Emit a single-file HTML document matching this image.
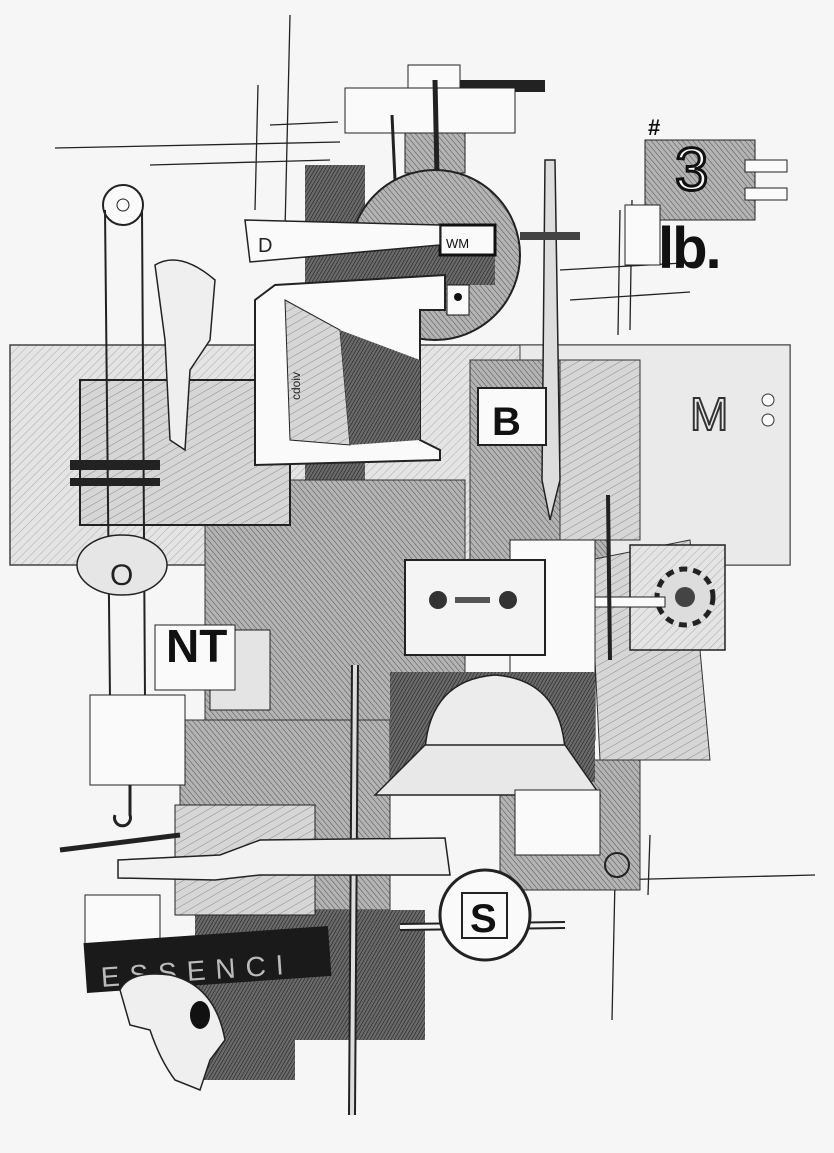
<!DOCTYPE html>
<html><head><meta charset="utf-8"><style>
html,body{margin:0;padding:0;background:#f6f6f6;}
svg{display:block}
text{font-family:"Liberation Sans",sans-serif;}
</style></head><body>
<svg width="834" height="1153" viewBox="0 0 834 1153" xmlns="http://www.w3.org/2000/svg">
<defs>
<pattern id="h1" width="6" height="6" patternUnits="userSpaceOnUse" patternTransform="rotate(45)"><rect width="6" height="6" fill="#e4e4e4"/><line x1="0" y1="0" x2="0" y2="6" stroke="#aaa" stroke-width="1"/></pattern>
<pattern id="h2" width="4" height="4" patternUnits="userSpaceOnUse" patternTransform="rotate(-40)"><rect width="4" height="4" fill="#b4b4b4"/><line x1="0" y1="0" x2="0" y2="4" stroke="#555" stroke-width="1.1"/></pattern>
<pattern id="h3" width="3" height="3" patternUnits="userSpaceOnUse" patternTransform="rotate(30)"><rect width="3" height="3" fill="#6a6a6a"/><line x1="0" y1="0" x2="0" y2="3" stroke="#1a1a1a" stroke-width="1.1"/></pattern>
<pattern id="h4" width="7" height="7" patternUnits="userSpaceOnUse" patternTransform="rotate(60)"><rect width="7" height="7" fill="#d6d6d6"/><line x1="0" y1="0" x2="0" y2="7" stroke="#8a8a8a" stroke-width="1"/></pattern>
</defs>
<rect width="834" height="1153" fill="#f6f6f6"/>
<g stroke="#222" stroke-width="1.3" fill="none">
<line x1="55" y1="148" x2="340" y2="142"/>
<line x1="150" y1="165" x2="330" y2="160"/>
<line x1="290" y1="15" x2="285" y2="230"/>
<line x1="258" y1="85" x2="255" y2="210"/>
<line x1="270" y1="125" x2="338" y2="122"/>
<line x1="560" y1="270" x2="700" y2="262"/>
<line x1="570" y1="300" x2="690" y2="292"/>
<line x1="610" y1="880" x2="815" y2="875"/>
<line x1="650" y1="835" x2="648" y2="895"/>
<line x1="615" y1="880" x2="612" y2="1020"/>
<line x1="665" y1="450" x2="670" y2="540"/>
<line x1="620" y1="210" x2="618" y2="335"/>
<line x1="632" y1="200" x2="630" y2="330"/>
</g>
<rect x="10" y="345" width="780" height="220" fill="url(#h1)" stroke="#444" stroke-width="1.5"/>
<rect x="520" y="345" width="270" height="220" fill="#eaeaea" stroke="#444"/>
<rect x="305" y="165" width="60" height="330" fill="url(#h3)"/>
<rect x="205" y="480" width="260" height="250" fill="url(#h2)" stroke="#333"/>
<rect x="470" y="360" width="140" height="200" fill="url(#h2)" stroke="#333"/>
<rect x="560" y="360" width="80" height="180" fill="url(#h4)" stroke="#333"/>
<polygon points="590,560 690,540 710,760 600,760" fill="url(#h4)" stroke="#333"/>
<rect x="180" y="720" width="210" height="190" fill="url(#h2)" stroke="#333"/>
<rect x="195" y="900" width="100" height="180" fill="url(#h3)"/>
<rect x="295" y="910" width="130" height="130" fill="url(#h3)"/>
<rect x="500" y="760" width="140" height="130" fill="url(#h2)" stroke="#333"/>
<rect x="80" y="380" width="210" height="145" fill="url(#h4)" stroke="#222" stroke-width="2"/>
<rect x="408" y="65" width="52" height="25" fill="#fafafa" stroke="#222"/>
<rect x="460" y="80" width="85" height="12" fill="#222"/>
<rect x="345" y="88" width="170" height="45" fill="#fafafa" stroke="#222"/>
<rect x="405" y="133" width="60" height="40" fill="url(#h2)" stroke="#222"/>
<line x1="435" y1="80" x2="437" y2="175" stroke="#222" stroke-width="5"/>
<line x1="392" y1="115" x2="395" y2="180" stroke="#222" stroke-width="3"/>
<circle cx="435" cy="255" r="85" fill="url(#h2)" stroke="#222" stroke-width="2"/>
<rect x="335" y="225" width="160" height="60" fill="url(#h3)"/>
<rect x="440" y="225" width="55" height="30" fill="#fafafa" stroke="#111" stroke-width="3"/>
<text x="446" y="248" font-size="13" fill="#111">WM</text>
<rect x="447" y="285" width="22" height="30" fill="#fafafa" stroke="#111"/>
<circle cx="458" cy="297" r="4" fill="#111"/>
<polygon points="245,220 440,225 440,245 250,262" fill="#fafafa" stroke="#222" stroke-width="1.5"/>
<text x="258" y="252" font-size="20" fill="#222">D</text>
<polygon points="545,160 555,160 560,480 550,520 542,480" fill="#ddd" stroke="#222" stroke-width="1.5"/>
<rect x="520" y="232" width="60" height="8" fill="#444"/>
<rect x="645" y="140" width="110" height="80" fill="url(#h2)" stroke="#222"/>
<text x="648" y="135" font-size="22" font-weight="bold" fill="#111">#</text>
<text x="675" y="190" font-size="60" fill="#fafafa" stroke="#111" stroke-width="3">3</text>
<rect x="745" y="160" width="42" height="12" fill="#fafafa" stroke="#222"/>
<rect x="745" y="188" width="42" height="12" fill="#fafafa" stroke="#222"/>
<rect x="625" y="205" width="35" height="60" fill="#fafafa" stroke="#222"/>
<text x="658" y="268" font-size="58" font-weight="bold" fill="#111" letter-spacing="-2">lb.</text>
<polygon points="255,300 275,285 445,275 445,310 420,310 420,440 440,450 440,460 255,465" fill="#fafafa" stroke="#222" stroke-width="2"/>
<polygon points="285,300 340,330 350,445 290,440" fill="url(#h4)" stroke="#222"/>
<polygon points="340,330 420,360 420,440 350,445" fill="url(#h3)"/>
<text x="300" y="400" font-size="12" fill="#222" transform="rotate(-90 300 400)">cdoiv</text>
<rect x="478" y="388" width="68" height="57" fill="#fafafa" stroke="#222" stroke-width="2"/>
<text x="492" y="435" font-size="40" font-weight="bold" fill="#111">B</text>
<text x="690" y="430" font-size="46" fill="#eaeaea" stroke="#333" stroke-width="2">M</text>
<circle cx="768" cy="400" r="6" fill="#fafafa" stroke="#333"/>
<circle cx="768" cy="420" r="6" fill="#fafafa" stroke="#333"/>
<circle cx="123" cy="205" r="20" fill="#fafafa" stroke="#222" stroke-width="2"/>
<circle cx="123" cy="205" r="6" fill="none" stroke="#222"/>
<line x1="105" y1="210" x2="110" y2="700" stroke="#222" stroke-width="2"/>
<line x1="142" y1="210" x2="145" y2="700" stroke="#222" stroke-width="2"/>
<ellipse cx="122" cy="565" rx="45" ry="30" fill="#e6e6e6" stroke="#222" stroke-width="1.5"/>
<text x="110" y="585" font-size="30" fill="#222">O</text>
<path d="M155,265 Q180,250 215,280 L210,340 L190,370 L185,450 L170,440 L165,340 Z" fill="#efefef" stroke="#222" stroke-width="1.5"/>
<rect x="70" y="460" width="90" height="10" fill="#222"/>
<rect x="70" y="478" width="90" height="8" fill="#222"/>
<rect x="210" y="630" width="60" height="80" fill="#e4e4e4" stroke="#222"/>
<rect x="155" y="625" width="80" height="65" fill="#fafafa" stroke="#222"/>
<text x="166" y="662" font-size="46" font-weight="bold" fill="#111">NT</text>
<rect x="90" y="695" width="95" height="90" fill="#fafafa" stroke="#222"/>
<path d="M130,785 v30 a8,8 0 1 1 -15,0" fill="none" stroke="#222" stroke-width="3"/>
<rect x="510" y="540" width="85" height="200" fill="#fafafa" stroke="#222"/>
<rect x="405" y="560" width="140" height="95" fill="#f4f4f4" stroke="#222" stroke-width="2"/>
<circle cx="438" cy="600" r="9" fill="#333"/>
<circle cx="508" cy="600" r="9" fill="#333"/>
<rect x="455" y="597" width="35" height="6" fill="#555"/>
<rect x="630" y="545" width="95" height="105" fill="url(#h1)" stroke="#222" stroke-width="1.5"/>
<circle cx="685" cy="597" r="28" fill="#ddd" stroke="#222" stroke-width="5" stroke-dasharray="8 6"/>
<circle cx="685" cy="597" r="10" fill="#444"/>
<rect x="595" y="597" width="70" height="10" fill="#fafafa" stroke="#222"/>
<line x1="608" y1="495" x2="610" y2="660" stroke="#222" stroke-width="4"/>
<rect x="390" y="672" width="205" height="110" fill="url(#h3)"/>
<path d="M425,750 Q430,680 495,675 Q560,680 565,750 Z" fill="#ececec" stroke="#222" stroke-width="1.5"/>
<path d="M375,795 L425,745 L565,745 L600,795 Z" fill="#e8e8e8" stroke="#222" stroke-width="1.5"/>
<rect x="515" y="790" width="85" height="65" fill="#fafafa" stroke="#222"/>
<line x1="355" y1="665" x2="352" y2="1115" stroke="#222" stroke-width="8"/>
<line x1="355" y1="665" x2="352" y2="1115" stroke="#ddd" stroke-width="4"/>
<rect x="175" y="805" width="140" height="110" fill="url(#h4)" stroke="#222"/>
<path d="M118,860 L220,855 L260,840 L445,838 L450,875 L260,875 L215,880 L118,878 Z" fill="#f2f2f2" stroke="#222" stroke-width="1.5"/>
<line x1="60" y1="850" x2="180" y2="835" stroke="#222" stroke-width="5"/>
<line x1="400" y1="927" x2="565" y2="925" stroke="#222" stroke-width="8"/>
<line x1="400" y1="927" x2="565" y2="925" stroke="#f6f6f6" stroke-width="4"/>
<circle cx="485" cy="915" r="45" fill="#fafafa" stroke="#222" stroke-width="3"/>
<rect x="462" y="893" width="45" height="45" fill="#fafafa" stroke="#222" stroke-width="2"/>
<text x="470" y="932" font-size="40" font-weight="bold" fill="#111">S</text>
<circle cx="617" cy="865" r="12" fill="none" stroke="#222" stroke-width="2"/>
<rect x="85" y="895" width="75" height="50" fill="#fafafa" stroke="#222"/>
<rect x="85" y="935" width="245" height="50" fill="#1a1a1a" transform="rotate(-4 200 960)"/>
<text x="100" y="980" font-size="28" fill="#bbb" letter-spacing="10" transform="rotate(-4 200 960)">ESSENCI</text>
<path d="M120,990 Q130,970 170,975 Q215,985 225,1040 L210,1060 L200,1090 L175,1080 Q160,1060 150,1030 L130,1025 Z" fill="#efefef" stroke="#222" stroke-width="1.5"/>
<ellipse cx="200" cy="1015" rx="10" ry="14" fill="#111"/>
</svg>
</body></html>
